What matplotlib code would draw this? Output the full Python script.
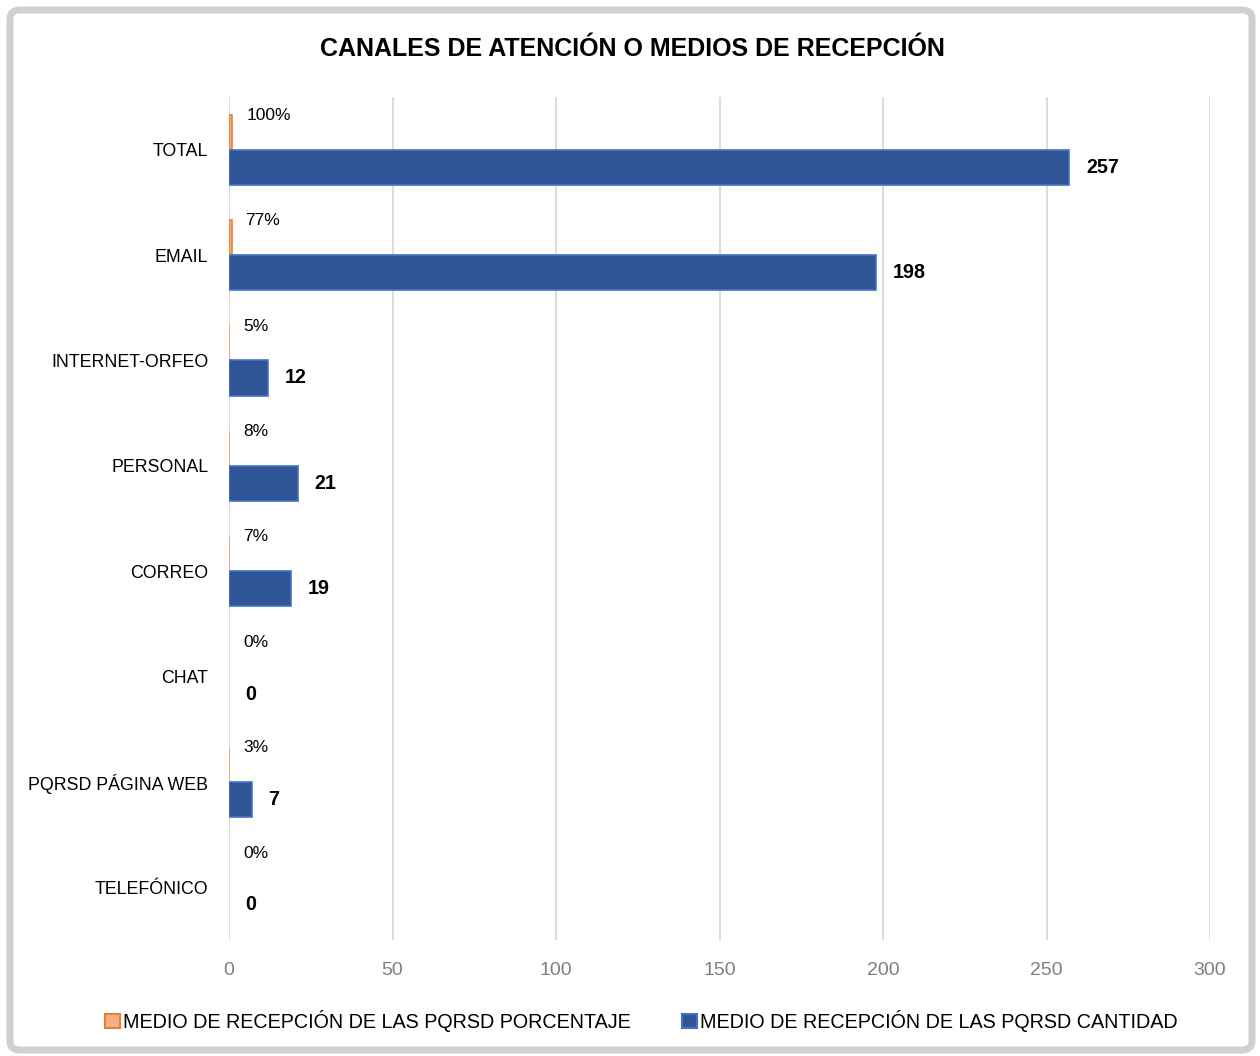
import matplotlib
matplotlib.use("Agg")
import matplotlib.pyplot as plt
from matplotlib.patches import FancyBboxPatch, Patch
from matplotlib import font_manager as fm

categories = ["TOTAL", "EMAIL", "INTERNET-ORFEO", "PERSONAL", "CORREO", "CHAT",
              "PQRSD PÁGINA WEB", "TELEFÓNICO"]
porcentaje = [1.00, 0.77, 0.05, 0.08, 0.07, 0.00, 0.03, 0.00]
cantidad = [257, 198, 12, 21, 19, 0, 7, 0]
pct_labels = ["100%", "77%", "5%", "8%", "7%", "0%", "3%", "0%"]
x_ticks = [0, 50, 100, 150, 200, 250, 300]

names = {f.name for f in fm.fontManager.ttflist}
narrow = "Liberation Sans Narrow" if "Liberation Sans Narrow" in names else "Liberation Sans"
plt.rcParams['font.family'] = [narrow, 'DejaVu Sans']

fig = plt.figure(figsize=(12.6, 10.56), dpi=100)
ax = fig.add_axes([229/1260, 1-940/1056, (1210-229)/1260, (940-97)/1056])

n = len(categories)
ys = [n - 1 - i for i in range(n)]
h = 0.333
orange_fill = "#F4B183"
orange_edge = "#ED7D31"
blue_fill = "#2F5597"
blue_edge = "#4472C4"

ax.barh([y + h/2 for y in ys], porcentaje, height=h, color=orange_fill,
        edgecolor=orange_edge, linewidth=[1.2 if v > 0.5 else (0.4 if v > 0 else 0) for v in porcentaje],
        zorder=3)
ax.barh([y - h/2 for y in ys], cantidad, height=h, color=blue_fill,
        edgecolor=blue_edge, linewidth=[1.2 if v > 0 else 0 for v in cantidad], zorder=3)

for y, v, lab in zip(ys, porcentaje, pct_labels):
    ax.annotate(lab, xy=(v, y + h/2), xytext=(10, 12), textcoords="offset points",
                ha="left", va="center", fontsize=12.5, color="#000000")
for y, v in zip(ys, cantidad):
    ax.annotate(str(v), xy=(v, y - h/2), xytext=(12, 0), textcoords="offset points",
                ha="left", va="center", fontsize=14.2, fontweight="bold", color="#000000")

ax.set_xlim(0, 300)
ax.set_ylim(-0.5, n - 0.5)
ax.set_xticks(x_ticks)
ax.set_xticklabels([str(t) for t in x_ticks], fontsize=14, color="#7F7F7F",
                   family=["Liberation Sans", "DejaVu Sans"])
ax.set_yticks(ys)
ax.set_yticklabels(categories, fontsize=12.8)
ax.tick_params(axis="both", length=0)
ax.tick_params(axis="y", pad=15)
ax.tick_params(axis="x", pad=16)
ax.grid(axis="x", color="#D9D9D9", linewidth=1.3, zorder=0)
for s in ax.spines.values():
    s.set_visible(False)

fig.text(0.502, 1-49/1056, "CANALES DE ATENCIÓN O MEDIOS DE RECEPCIÓN", ha="center",
         va="center", fontsize=18, fontweight="bold")

handles = [Patch(facecolor=orange_fill, edgecolor=orange_edge, linewidth=1.5),
           Patch(facecolor=blue_fill, edgecolor=blue_edge, linewidth=1.5)]
fig.legend(handles, ["MEDIO DE RECEPCIÓN DE LAS PQRSD PORCENTAJE",
                     "MEDIO DE RECEPCIÓN DE LAS PQRSD CANTIDAD"],
           loc="center", bbox_to_anchor=(0.509, 1-1021/1056), ncol=2, frameon=False,
           fontsize=14.2, handlelength=0.75, handleheight=0.75, handletextpad=0.15,
           columnspacing=2.6)

border = FancyBboxPatch((10/1260, 6/1056), 1242/1260, 1040/1056,
                        boxstyle="round,pad=0,rounding_size=0.008",
                        transform=fig.transFigure, facecolor="none",
                        edgecolor="#D0D0D0", linewidth=5, zorder=10)
fig.patches.append(border)

fig.savefig("out.png", dpi=100, facecolor="white")
